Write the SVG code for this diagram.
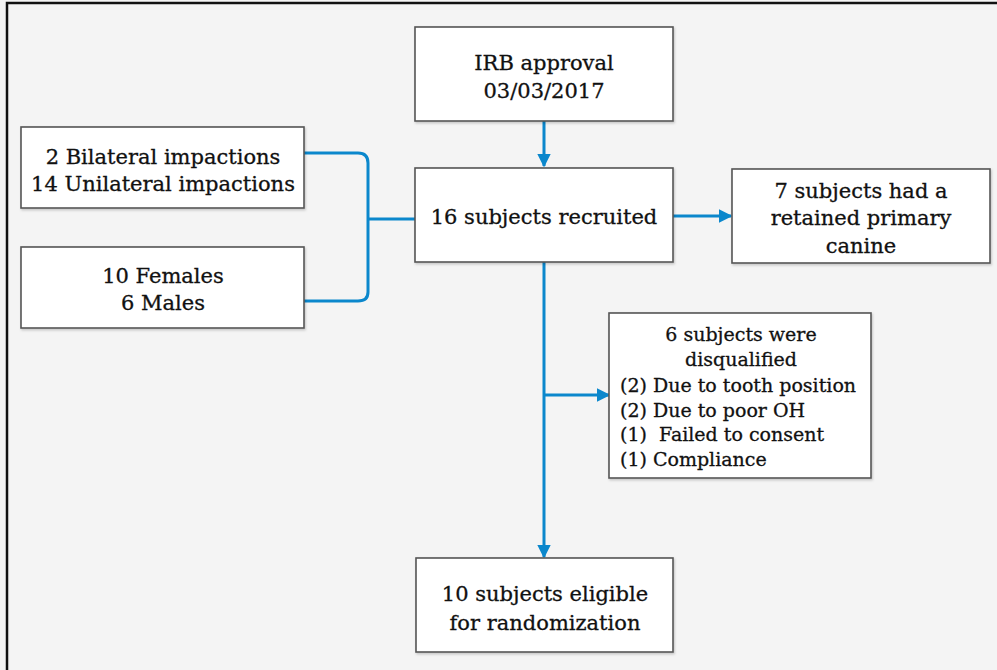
<svg xmlns="http://www.w3.org/2000/svg" width="997" height="670" viewBox="0 0 997 670">
<style>
.box{fill:#fff;stroke:#555;stroke-width:1.6}
.t{font-family:"DejaVu Serif","Liberation Serif",serif;font-size:21px;fill:#111;stroke:#111;stroke-width:0.3;text-anchor:middle}
.s{font-size:19px}
.l{text-anchor:start}
.c{fill:none;stroke:#0b87cc;stroke-width:3}
</style>
<defs>
<marker id="ah" viewBox="0 0 10 10" refX="9" refY="5" markerWidth="4.5" markerHeight="4.5" orient="auto" markerUnits="strokeWidth">
<path d="M0,0 L10,5 L0,10 Z" fill="#0b87cc"/>
</marker>
<filter id="sh" x="-5%" y="-5%" width="110%" height="115%">
<feDropShadow dx="1" dy="1.5" stdDeviation="1" flood-color="#000" flood-opacity="0.2"/>
</filter>
</defs>
<rect x="0" y="0" width="997" height="670" fill="#f4f4f4"/>
<rect x="7" y="3" width="1010" height="690" fill="none" stroke="#111" stroke-width="2.5"/>
<g id="connectors">
<path class="c" d="M544,121 V166" marker-end="url(#ah)"/>
<path class="c" d="M673,216 H731" marker-end="url(#ah)"/>
<path class="c" d="M544,262 V557" marker-end="url(#ah)"/>
<path class="c" d="M544,395 H609" marker-end="url(#ah)"/>
<path class="c" d="M304,153 H358 Q368,153 368,163 V292 Q368,301 358,301 H304"/>
<path class="c" d="M368,219 H415"/>
</g>
<g id="irb">
<rect class="box" filter="url(#sh)" x="415" y="27" width="258" height="94"/>
<text class="t" x="544" y="70">IRB approval</text>
<text class="t" x="544" y="98">03/03/2017</text>
</g>
<g id="recruited">
<rect class="box" filter="url(#sh)" x="415" y="168" width="258" height="94"/>
<text class="t" x="544" y="224">16 subjects recruited</text>
</g>
<g id="retained">
<rect class="box" filter="url(#sh)" x="732" y="169" width="258" height="94"/>
<text class="t" x="861" y="198">7 subjects had a</text>
<text class="t" x="861" y="225">retained primary</text>
<text class="t" x="861" y="253">canine</text>
</g>
<g id="impactions">
<rect class="box" filter="url(#sh)" x="21" y="127" width="283" height="81"/>
<text class="t" x="163" y="164">2 Bilateral impactions</text>
<text class="t" x="163" y="191">14 Unilateral impactions</text>
</g>
<g id="sex">
<rect class="box" filter="url(#sh)" x="21" y="247" width="283" height="81"/>
<text class="t" x="163" y="283">10 Females</text>
<text class="t" x="163" y="310">6 Males</text>
</g>
<g id="disqualified">
<rect class="box" filter="url(#sh)" x="609" y="313" width="262" height="165"/>
<text class="t s" x="741" y="341">6 subjects were</text>
<text class="t s" x="741" y="366">disqualified</text>
<text class="t s l" x="620" y="392">(2) Due to tooth position</text>
<text class="t s l" x="620" y="417">(2) Due to poor OH</text>
<text class="t s l" x="620" y="441" xml:space="preserve">(1)  Failed to consent</text>
<text class="t s l" x="620" y="466">(1) Compliance</text>
</g>
<g id="eligible">
<rect class="box" filter="url(#sh)" x="416" y="558" width="257" height="94"/>
<text class="t" x="545" y="601">10 subjects eligible</text>
<text class="t" x="545" y="630">for randomization</text>
</g>
</svg>
